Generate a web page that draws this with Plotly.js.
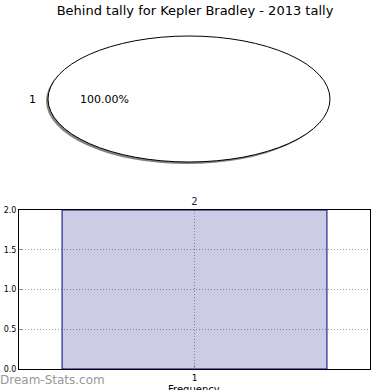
<!DOCTYPE html>
<html><head><meta charset="utf-8">
<script src="https://cdn.plot.ly/plotly-3.0.1.min.js"></script>
<style>html,body{margin:0;padding:0;background:#fff}#c{width:390px;height:390px}</style>
</head><body><div id="c"></div>
<script>
const pieLabels = ['1'];
const pieValues = [2];
const barCats = [1];
const barValues = [2];
const yTicks = [0, 0.5, 1.0, 1.5, 2.0];
const yTickText = ['0.0', '0.5', '1.0', '1.5', '2.0'];
const chartTitle = 'Behind tally for Kepler Bradley - 2013 tally';
const xTitle = 'Frequency';

const total = pieValues.reduce((a, b) => a + b, 0);
const pctText = (pieValues[0] / total * 100).toFixed(2) + '%';
const FONT = 'DejaVu Sans, sans-serif';

const data = [
  {
    type: 'pie', labels: pieLabels, values: pieValues, sort: false,
    textinfo: 'none', hoverinfo: 'none', showlegend: false,
    marker: {colors: ['#ffffff'], line: {color: '#000000', width: 1}},
    domain: {x: [126/390, 252/390], y: [1-162/390, 1-36/390]}
  },
  {
    type: 'bar', x: barCats, y: barValues, width: 0.8,
    marker: {color: 'rgba(0,0,128,0.2)', line: {color: '#000080', width: 1}},
    text: barValues.map(String), textposition: 'outside', cliponaxis: false,
    textfont: {family: FONT, size: 10, color: '#1a1a66'},
    hoverinfo: 'none', showlegend: false
  }
];

const layout = {
  width: 390, height: 390,
  margin: {l: 0, r: 0, t: 0, b: 0},
  paper_bgcolor: '#fff', plot_bgcolor: '#fff',
  title: {text: chartTitle, font: {family: FONT, size: 13, color: '#000'}, x: 0.5, xanchor: 'center', y: 1 - 10/390, yanchor: 'middle'},
  xaxis: {
    domain: [19/390, 370/390], range: [1 - 0.53, 1 + 0.53],
    tickvals: barCats, ticktext: barCats.map(String),
    ticks: 'inside', ticklen: 4, tickcolor: '#888',
    showgrid: true, gridcolor: '#a0a0a0', griddash: '1px,2px', gridwidth: 1,
    showline: true, linecolor: '#000', linewidth: 1, mirror: true,
    zeroline: false,
    tickfont: {family: FONT, size: 9, color: '#000'}
  },
  yaxis: {
    domain: [1 - 369/390, 1 - 210/390], range: [0, 2],
    tickvals: yTicks, ticktext: yTickText,
    ticks: 'inside', ticklen: 4, tickcolor: '#888',
    showgrid: true, gridcolor: '#a0a0a0', griddash: '1px,2px', gridwidth: 1,
    showline: true, linecolor: '#000', linewidth: 1, mirror: true,
    zeroline: false,
    tickfont: {family: FONT, size: 8, color: '#000'}
  },
  annotations: [
    {text: pieLabels[0], xref: 'paper', yref: 'paper', x: 32/390, y: 1 - 99/390, showarrow: false, xanchor: 'center', yanchor: 'middle', font: {family: FONT, size: 11, color: '#000'}},
    {text: pctText, xref: 'paper', yref: 'paper', x: 104/390, y: 1 - 99/390, showarrow: false, xanchor: 'center', yanchor: 'middle', font: {family: FONT, size: 11, color: '#000'}},
    {text: xTitle, xref: 'paper', yref: 'paper', x: 194/390, y: 1 - 382/390, showarrow: false, xanchor: 'center', yanchor: 'top', font: {family: FONT, size: 10, color: '#000'}},
    {text: 'Dream-Stats.com', xref: 'paper', yref: 'paper', x: -0.005, y: 1 - 380/390, showarrow: false, xanchor: 'left', yanchor: 'middle', font: {family: FONT, size: 12, color: '#999'}}
  ]
};

Plotly.newPlot('c', data, layout, {staticPlot: true}).then(function(gd){
  const sx = 141 / 63;
  gd.querySelectorAll('.pielayer path.surface').forEach(function(p){
    const bb = p.getBBox();
    const cx = bb.x + bb.width / 2, cy = bb.y + bb.height / 2;
    const base = p.getAttribute('transform') || '';
    const shadow = p.cloneNode(true);
    shadow.setAttribute('transform', 'translate(' + (cx - 2) + ',' + (cy + 2) + ') scale(' + sx + ',1) translate(' + (-cx) + ',' + (-cy) + ') ' + base);
    shadow.style.fill = 'rgb(130,130,130)';
    shadow.style.stroke = 'none';
    p.parentNode.insertBefore(shadow, p);
    p.setAttribute('transform', 'translate(' + cx + ',' + cy + ') scale(' + sx + ',1) translate(' + (-cx) + ',' + (-cy) + ') ' + base);
    p.setAttribute('vector-effect', 'non-scaling-stroke');
    p.style.vectorEffect = 'non-scaling-stroke';
  });
});
</script>
</body></html>
